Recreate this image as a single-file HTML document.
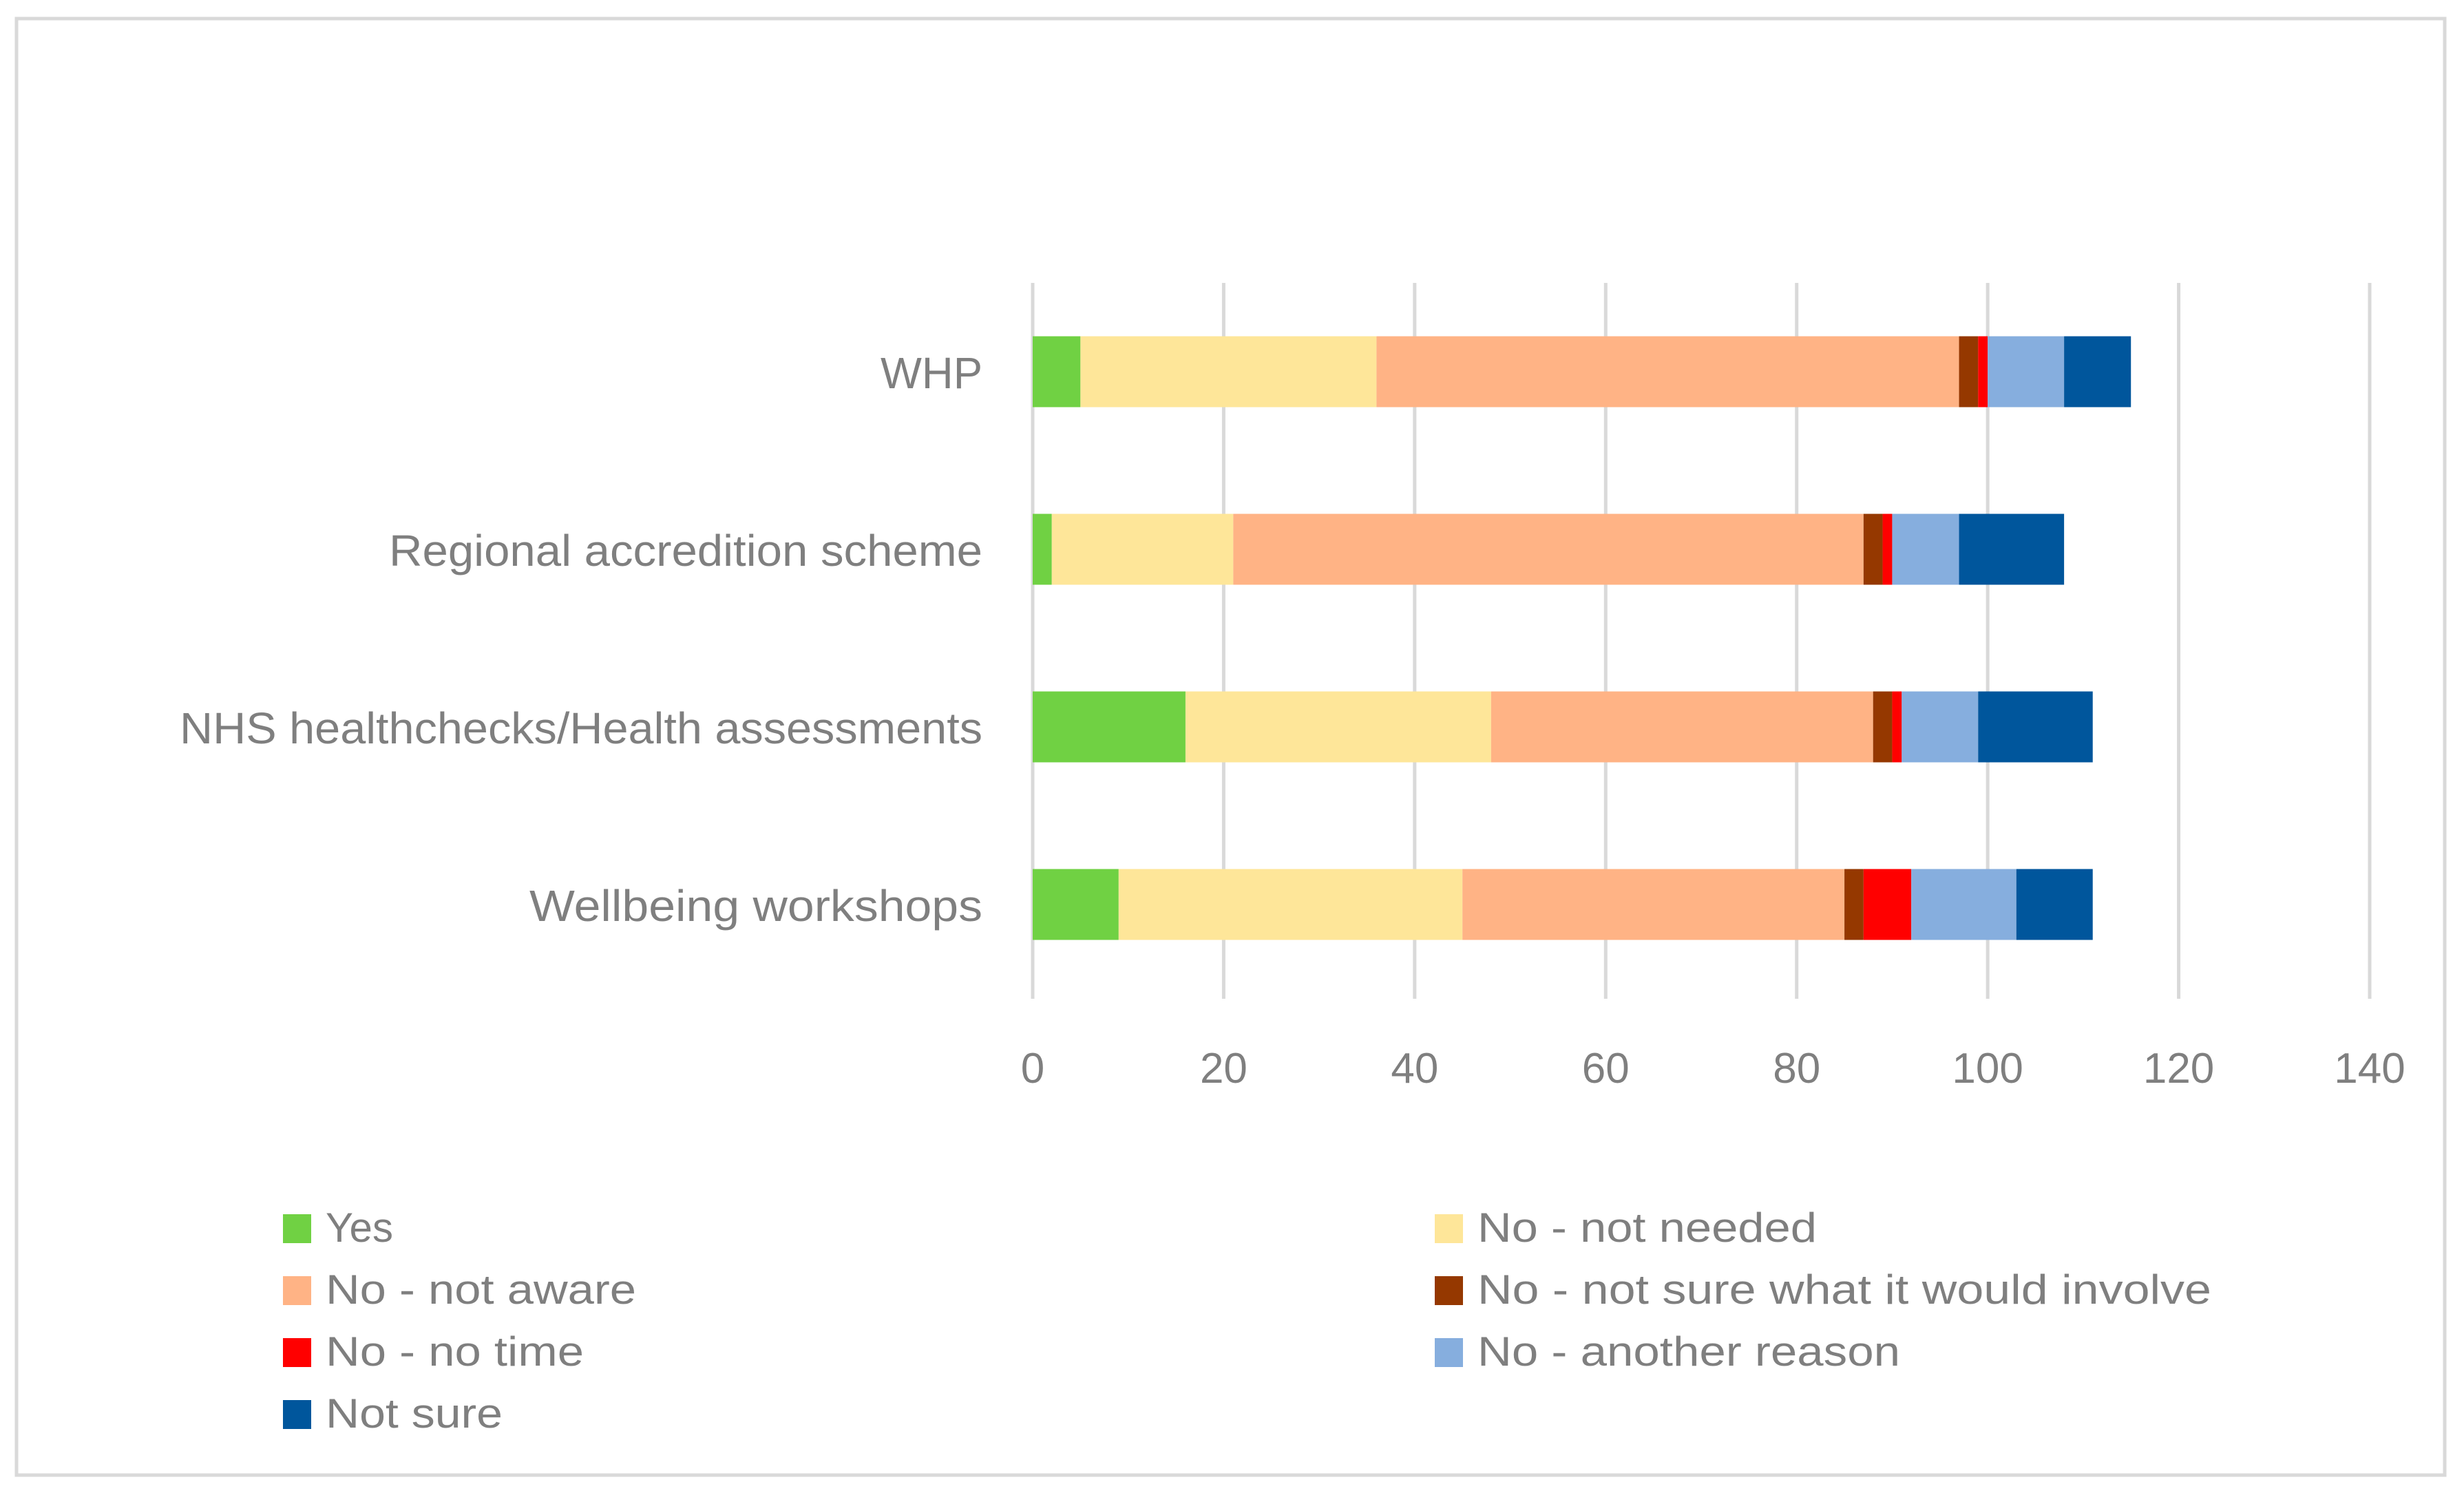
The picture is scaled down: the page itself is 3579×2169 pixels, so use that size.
<!DOCTYPE html>
<html><head><meta charset="utf-8"><style>html,body{margin:0;padding:0;background:#fff}svg{display:block}text{font-family:"Liberation Sans",sans-serif;fill:#7f7f7f}</style></head>
<body>
<svg id="chart" width="3579" height="2169" viewBox="0 0 3579 2169" xmlns="http://www.w3.org/2000/svg">
<rect x="24" y="27" width="3527" height="2116" fill="#fff" stroke="#d9d9d9" stroke-width="5"/>
<g id="grid"></g><g id="bars"></g><g id="labels"></g><g id="legend"></g>
</svg>
<script>
const categories = ["WHP","Regional accredition scheme","NHS healthchecks/Health assessments","Wellbeing workshops"];
const seriesNames = ["Yes","No - not needed","No - not aware","No - not sure what it would involve","No - no time","No - another reason","Not sure"];
const seriesColors = ["#70d143","#fee699","#ffb385","#953800","#ff0000","#86aede","#00569c"];
const yesVals = [5,2,16,9];
const notNeededVals = [31,19,32,36];
const notAwareVals = [61,66,40,40];
const notSureInvolveVals = [2,2,2,2];
const noTimeVals = [1,1,1,5];
const anotherReasonVals = [8,7,8,11];
const notSureVals = [7,11,12,8];
const tickValues = [0,20,40,60,80,100,120,140];
const catLabelWidths = [148,862,1166,658];
const legendWidths = [98,493,451,1066,375,614,257];

const series = [yesVals,notNeededVals,notAwareVals,notSureInvolveVals,noTimeVals,anotherReasonVals,notSureVals];
const NS="http://www.w3.org/2000/svg";
const X0=1500, X1=3442, Y0=411, Y1=1443, XMAX=140;
const xs = v => X0 + v/XMAX*(X1-X0);
const band = (Y1-Y0)/categories.length;
const yc = i => Y0 + band*(i+0.5);
const BH = 103;
function mk(tag, attrs, parent){const e=document.createElementNS(NS,tag);for(const k in attrs)e.setAttribute(k,attrs[k]);parent.appendChild(e);return e;}
const grid=document.getElementById('grid'), bars=document.getElementById('bars'), labels=document.getElementById('labels'), legend=document.getElementById('legend');
tickValues.forEach(t=>{
  const l=mk('line',{x1:xs(t),x2:xs(t),y1:Y0,y2:Y1+8,stroke:'#d9d9d9','stroke-width':5},grid);
  
  
  const tx=mk('text',{x:xs(t),y:1573,'font-size':62,'text-anchor':'middle'},labels);
  tx.textContent=t;
  
  
});
categories.forEach((c,i)=>{
  const tx=mk('text',{x:1427-catLabelWidths[i],y:yc(i)+24,'font-size':64,textLength:catLabelWidths[i],lengthAdjust:'spacingAndGlyphs'},labels);
  tx.textContent=c;
  
  
  let acc=0;
  series.forEach((s,k)=>{
    const v=s[i];
    const r=mk('rect',{x:xs(acc),y:yc(i)-BH/2,width:Math.max(0,xs(acc+v)-xs(acc)),height:BH,fill:seriesColors[k]},bars);
    
    
    acc+=v;
  });
});
seriesNames.forEach((n,k)=>{
  const col=k%2, row=Math.floor(k/2);
  const x= col===0?411:2084, y=1764+row*90;
  const g=mk('g',{},legend);
  
  
  mk('rect',{x:x,y:y,width:41,height:42,fill:seriesColors[k]},g);
  const tx=mk('text',{x:x+62,y:y+40,'font-size':60,textLength:legendWidths[k],lengthAdjust:'spacingAndGlyphs'},g);
  tx.textContent=n;
});
</script>
</body></html>
